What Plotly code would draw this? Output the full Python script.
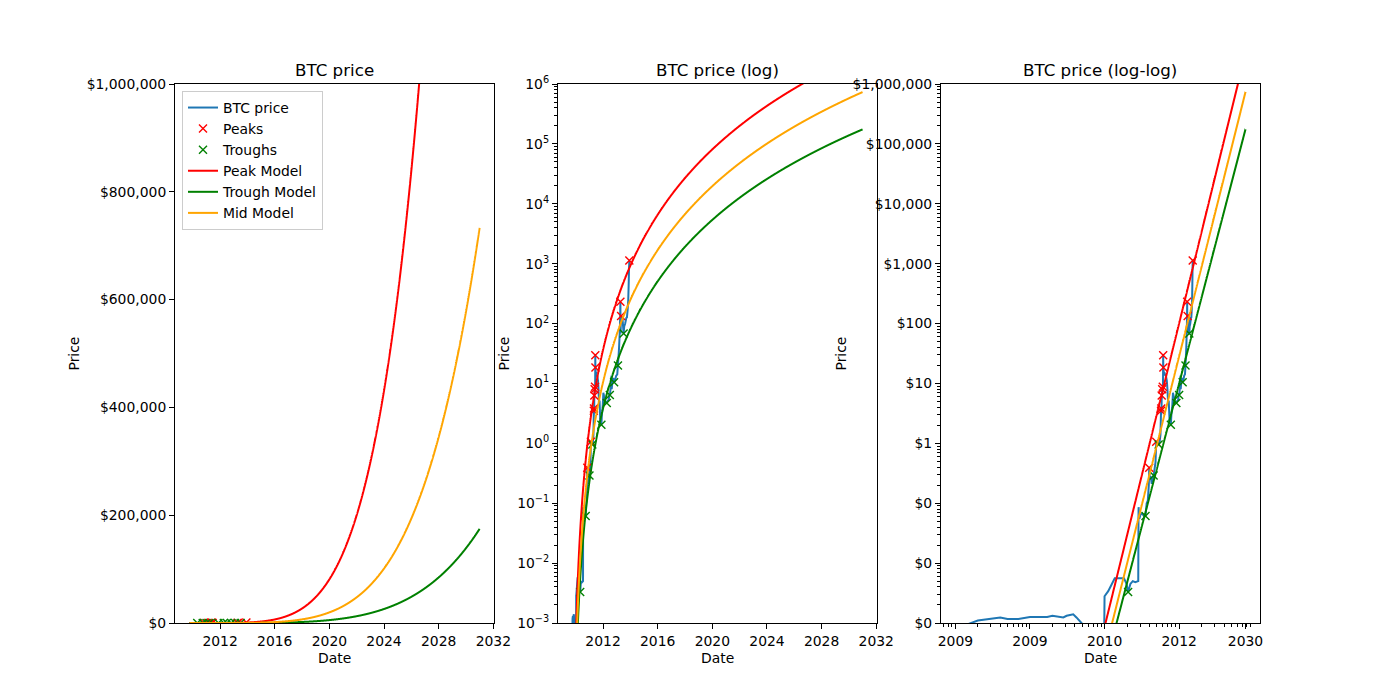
import numpy as np
import pandas as pd
import plotly.graph_objects as go

# ---------------- data ----------------
price_dates = [
    "2009-10-05", "2009-10-06", "2009-10-07", "2009-10-09", "2009-10-10", "2009-10-12",
    "2009-10-15", "2009-10-22", "2009-10-25", "2009-11-02", "2009-11-05", "2009-11-12",
    "2009-11-16", "2009-11-23", "2009-12-01", "2010-01-12", "2010-01-13", "2010-01-25",
    "2010-02-19", "2010-03-10", "2010-04-05", "2010-04-20", "2010-04-30", "2010-05-15",
    "2010-06-01", "2010-06-20", "2010-07-15", "2010-07-17", "2010-07-18", "2010-07-25",
    "2010-08-05", "2010-08-20", "2010-09-05", "2010-09-24", "2010-10-07", "2010-10-20",
    "2010-11-01", "2010-11-06", "2010-11-12", "2010-11-25", "2010-12-08", "2010-12-20",
    "2011-01-03", "2011-01-20", "2011-01-30", "2011-02-10", "2011-02-25", "2011-03-08",
    "2011-03-20", "2011-04-05", "2011-04-20", "2011-04-30", "2011-05-02", "2011-05-04",
    "2011-05-08", "2011-05-12", "2011-05-15", "2011-05-21", "2011-05-25", "2011-06-01",
    "2011-06-04", "2011-06-08", "2011-06-10", "2011-06-12", "2011-06-20", "2011-07-01",
    "2011-07-15", "2011-08-01", "2011-08-20", "2011-09-01", "2011-09-15", "2011-10-01",
    "2011-10-20", "2011-11-18", "2011-12-01", "2011-12-20", "2012-01-10", "2012-01-20",
    "2012-02-10", "2012-02-20", "2012-03-10", "2012-04-01", "2012-04-10", "2012-05-01",
    "2012-06-01", "2012-06-15", "2012-06-25", "2012-07-01", "2012-07-15", "2012-08-01",
    "2012-08-16", "2012-08-19", "2012-09-15", "2012-10-01", "2012-10-23", "2012-11-15",
    "2012-12-15", "2013-01-15", "2013-01-27", "2013-02-03", "2013-02-10", "2013-02-20",
    "2013-03-05", "2013-03-20", "2013-03-28", "2013-04-03", "2013-04-09", "2013-04-12",
    "2013-04-16", "2013-04-20", "2013-04-28", "2013-05-10", "2013-06-01", "2013-06-15",
    "2013-07-04", "2013-07-20", "2013-08-15", "2013-09-15", "2013-10-01", "2013-10-20",
    "2013-11-05", "2013-11-15", "2013-11-20", "2013-11-25", "2013-12-04",
]
price_values = [
    0.00076, 0.00080, 0.00110, 0.00124, 0.00117, 0.00117,
    0.00126, 0.00126, 0.00132, 0.00124, 0.00132, 0.00140,
    0.00124, 0.00100, 0.00085, 0.00085, 0.0028, 0.0034,
    0.0056, 0.0056, 0.0056, 0.0045, 0.0033, 0.0045,
    0.0050, 0.0048, 0.0050, 0.05, 0.086, 0.055,
    0.065, 0.067, 0.062, 0.061, 0.10, 0.11,
    0.20, 0.39, 0.27, 0.28, 0.21, 0.25,
    0.29, 0.40, 0.48, 1.06, 1.00, 1.02,
    0.96, 1.05, 1.40, 3.5, 3.0, 3.8,
    3.4, 6.3, 5.6, 8.0, 7.1, 8.8,
    8.0, 29.6, 17.0, 18.4, 15.0, 15.4,
    13.8, 13.3, 11.0, 8.2, 5.0, 5.0,
    2.3, 2.05, 3.0, 3.9, 7.0, 6.4,
    5.7, 4.5, 4.9, 4.9, 4.7, 5.1,
    5.3, 6.5, 6.8, 6.4, 7.6, 9.4,
    13.5, 8.0, 11.8, 12.4, 10.5, 11.0,
    13.4, 14.2, 18.0, 20.0, 24.0, 29.5,
    40.0, 65.0, 90.0, 130.0, 232.0, 100.0,
    68.0, 120.0, 134.0, 117.0, 129.0, 100.0,
    68.0, 90.0, 100.0, 125.0, 127.0, 170.0,
    250.0, 415.0, 560.0, 800.0, 1130.0,
]

peak_dates = ["2010-11-06", "2011-02-10", "2011-04-30", "2011-05-04", "2011-05-12", "2011-05-21",
              "2011-06-01", "2011-06-08", "2011-06-12", "2013-04-09", "2013-04-28", "2013-12-04"]
peak_values = [0.39, 1.06, 3.5, 3.8, 6.3, 8.0, 8.8, 29.6, 18.4, 232.0, 134.0, 1130.0]

trough_dates = ["2010-04-30", "2010-09-24", "2011-01-03", "2011-03-20", "2011-11-18", "2012-04-10",
                "2012-07-01", "2012-10-23", "2013-02-03", "2013-07-04"]
trough_values = [0.0033, 0.061, 0.29, 0.96, 2.05, 4.7, 6.4, 10.5, 20.0, 68.0]

# power-law models: log10(price) = intercept + slope * log10(days since first price date)
peak_model = {"intercept": -13.206, "slope": 5.07}
trough_model = {"intercept": -13.304, "slope": 4.768}
mid_model = {"intercept": -13.42, "slope": 4.958}
model_end_date = "2030-12-31"

linear_ticks = [0, 200000, 400000, 600000, 800000, 1000000]
linear_tick_text = ["$0", "$200,000", "$400,000", "$600,000", "$800,000", "$1,000,000"]
log_ticks = [1e-3, 1e-2, 1e-1, 1, 10, 100, 1e3, 1e4, 1e5, 1e6]
log_tick_text = ["10<sup>\u22123</sup>", "10<sup>\u22122</sup>", "10<sup>\u22121</sup>", "10<sup>0</sup>",
                 "10<sup>1</sup>", "10<sup>2</sup>", "10<sup>3</sup>", "10<sup>4</sup>",
                 "10<sup>5</sup>", "10<sup>6</sup>"]
dollar_log_tick_text = ["$0", "$0", "$0", "$1", "$10", "$100", "$1,000", "$10,000",
                        "$100,000", "$1,000,000"]
year_ticks = ["2012-01-01", "2016-01-01", "2020-01-01", "2024-01-01", "2028-01-01", "2032-01-01"]
loglog_tick_days = [1, 10, 100, 1000]
loglog_tick_text = ["2009", "2009", "2010", "2012", "2030"]

# ---------------- derived ----------------
pdates = pd.to_datetime(price_dates)
origin = pdates[0]
p_days = np.array((pdates - origin).days, dtype=float)
pk_days = np.array((pd.to_datetime(peak_dates) - origin).days, dtype=float)
tr_days = np.array((pd.to_datetime(trough_dates) - origin).days, dtype=float)

end_days = (pd.Timestamp(model_end_date) - origin).days
m_days = np.arange(1, end_days + 1, dtype=float)
m_dates = origin + pd.to_timedelta(m_days, unit="D")


def model_price(m, d):
    return 10 ** (m["intercept"] + m["slope"] * np.log10(d))


peak_curve = model_price(peak_model, m_days)
trough_curve = model_price(trough_model, m_days)
mid_curve = model_price(mid_model, m_days)

FONT = "DejaVu Sans"
BLUE = "#1f77b4"

# page offset of the plot div (body margin) compensation
OFF = 8
W, H = 1400, 700


def fx(px):
    return (px - OFF) / W


def fy(py):
    return (H + OFF - py) / H


fig = go.Figure()

pos_mask = p_days > 0

for i, ax in enumerate(["", "2", "3"]):
    xa = "x" + ax
    ya = "y" + ax
    show = (i == 0)
    if i < 2:
        px, pkx, trx, mx = pdates, pd.to_datetime(peak_dates), pd.to_datetime(trough_dates), m_dates
        py = price_values
    else:
        px = p_days[pos_mask]
        py = list(np.array(price_values)[pos_mask])
        pkx, trx, mx = pk_days, tr_days, m_days
    fig.add_trace(go.Scatter(x=px, y=py, mode="lines", name="BTC price",
                             line=dict(color=BLUE, width=2, simplify=False),
                             xaxis=xa, yaxis=ya, showlegend=show))
    fig.add_trace(go.Scatter(x=pkx, y=peak_values, mode="markers", name="Peaks",
                             marker=dict(symbol="x-thin", size=8, color="red",
                                         line=dict(color="red", width=1.4)),
                             xaxis=xa, yaxis=ya, showlegend=show))
    fig.add_trace(go.Scatter(x=trx, y=trough_values, mode="markers", name="Troughs",
                             marker=dict(symbol="x-thin", size=8, color="green",
                                         line=dict(color="green", width=1.4)),
                             xaxis=xa, yaxis=ya, showlegend=show))
    fig.add_trace(go.Scatter(x=mx, y=peak_curve, mode="lines", name="Peak Model",
                             line=dict(color="red", width=2, simplify=False),
                             xaxis=xa, yaxis=ya, showlegend=show))
    fig.add_trace(go.Scatter(x=mx, y=trough_curve, mode="lines", name="Trough Model",
                             line=dict(color="green", width=2, simplify=False),
                             xaxis=xa, yaxis=ya, showlegend=show))
    fig.add_trace(go.Scatter(x=mx, y=mid_curve, mode="lines", name="Mid Model",
                             line=dict(color="orange", width=2, simplify=False),
                             xaxis=xa, yaxis=ya, showlegend=show))

# axes geometry (matplotlib default subplot layout, in pixels)
ax_w = 0.775 * W / 3.4
ax_gap = 0.2 * ax_w
ax_left = [0.125 * W + k * (ax_w + ax_gap) for k in range(3)]
doms = [[fx(l), fx(l + ax_w)] for l in ax_left]
ydom = [fy(0.89 * H), fy(0.12 * H)]

span = end_days
date_lo = origin - pd.Timedelta(days=0.05 * span)
date_hi = pd.Timestamp(model_end_date) + pd.Timedelta(days=0.05 * span)
lg_hi = np.log10(end_days)
lg_lo, lg_hi2 = 0 - 0.05 * lg_hi, lg_hi + 0.05 * lg_hi

common_axis = dict(showline=True, linecolor="black", linewidth=1, mirror=True, showgrid=False,
                   zeroline=False, ticks="outside", ticklen=5, tickwidth=1, tickcolor="black",
                   automargin=False,
                   tickfont=dict(family=FONT, size=13.9, color="black"))

minor_vals = []
for e in range(-4, 7):
    for m in range(2, 10):
        minor_vals.append(m * 10.0 ** e)
minor_style = dict(ticks="outside", ticklen=3, tickwidth=0.8, tickcolor="black", tickvals=minor_vals)

fig.update_layout(
    template="none",
    width=W, height=H,
    margin=dict(l=0, r=0, t=0, b=0, pad=0, autoexpand=False),
    paper_bgcolor="white", plot_bgcolor="white",
    font=dict(family=FONT, size=13.9, color="black"),
    xaxis=dict(domain=doms[0], type="date", range=[date_lo, date_hi], anchor="y",
               tickvals=year_ticks, tickformat="%Y", **common_axis),
    yaxis=dict(domain=ydom, range=[0, 1e6], anchor="x",
               tickvals=linear_ticks, ticktext=linear_tick_text, **common_axis),
    xaxis2=dict(domain=doms[1], type="date", range=[date_lo, date_hi], anchor="y2",
                tickvals=year_ticks, tickformat="%Y", **common_axis),
    yaxis2=dict(domain=ydom, type="log", range=[-3, 6], anchor="x2",
                tickvals=log_ticks, ticktext=log_tick_text, minor=minor_style, **common_axis),
    xaxis3=dict(domain=doms[2], type="log", range=[lg_lo, lg_hi2], anchor="y3",
                tickvals=loglog_tick_days + [end_days], ticktext=loglog_tick_text,
                minor=minor_style, **common_axis),
    yaxis3=dict(domain=ydom, type="log", range=[-3, 6], anchor="x3",
                tickvals=log_ticks, ticktext=dollar_log_tick_text, minor=minor_style, **common_axis),
    legend=dict(x=fx(182), y=fy(91), xanchor="left", yanchor="top",
                bgcolor="rgba(255,255,255,0.8)", bordercolor="#cccccc", borderwidth=1,
                font=dict(family=FONT, size=13.9, color="black"), tracegroupgap=0,
                itemwidth=30),
    showlegend=True,
)

titles = ["BTC price", "BTC price (log)", "BTC price (log-log)"]
ylabel_x = [73, 503, 840]
annotations = []
for k in range(3):
    cx = (doms[k][0] + doms[k][1]) / 2
    annotations.append(dict(text=titles[k], x=cx, y=fy(70), xref="paper", yref="paper",
                            showarrow=False, xanchor="center", yanchor="middle",
                            font=dict(family=FONT, size=16.7, color="black")))
    annotations.append(dict(text="Date", x=cx, y=fy(658), xref="paper", yref="paper",
                            showarrow=False, xanchor="center", yanchor="middle",
                            font=dict(family=FONT, size=13.9, color="black")))
    annotations.append(dict(text="Price", x=fx(ylabel_x[k]), y=(ydom[0] + ydom[1]) / 2,
                            xref="paper", yref="paper", showarrow=False, xanchor="center",
                            yanchor="middle", textangle=-90,
                            font=dict(family=FONT, size=13.9, color="black")))
fig.update_layout(annotations=annotations)

fig.write_html("out.html")
